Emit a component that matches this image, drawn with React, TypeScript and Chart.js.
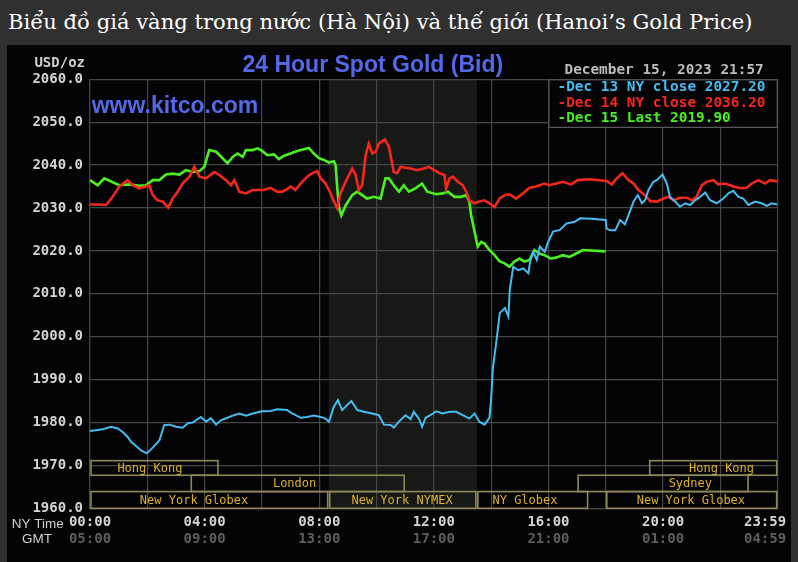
import React, { useEffect, useRef } from 'react';
import { Chart, registerables } from 'chart.js';

Chart.register(...registerables);

// [NY hour, USD/oz]
const dec13: [number, number][] = [
  [0, 1978.0], [0.21, 1978.2], [0.44, 1978.4], [0.73, 1979.0], [0.97, 1978.6], [1.14, 1977.8], [1.31, 1976.7],
  [1.43, 1975.5], [1.61, 1974.5], [1.78, 1973.5], [1.98, 1972.8], [2.2, 1974.2], [2.42, 1975.8], [2.59, 1979.4],
  [2.77, 1979.5], [3.0, 1979.0], [3.23, 1978.8], [3.41, 1979.8], [3.58, 1980.0], [3.87, 1981.3], [4.05, 1980.2],
  [4.22, 1981.0], [4.4, 1979.5], [4.57, 1980.5], [4.75, 1981.0], [4.98, 1981.6], [5.21, 1982.1], [5.44, 1981.6],
  [5.68, 1982.1], [6.0, 1982.6], [6.3, 1982.7], [6.53, 1983.1], [6.88, 1982.9], [7.06, 1982.1], [7.35, 1981.1],
  [7.58, 1981.3], [7.81, 1981.6], [8.05, 1981.3], [8.22, 1980.9], [8.34, 1980.2], [8.51, 1983.7], [8.65, 1985.2],
  [8.8, 1982.9], [8.92, 1983.7], [9.12, 1985.0], [9.33, 1982.9], [9.56, 1982.5], [9.85, 1982.1], [10.08, 1981.7],
  [10.26, 1979.5], [10.49, 1979.4], [10.6, 1978.8], [10.78, 1980.2], [11.01, 1981.7], [11.19, 1980.8], [11.3, 1982.5],
  [11.48, 1980.9], [11.59, 1979.0], [11.71, 1981.1], [11.88, 1981.7], [12.08, 1982.6], [12.31, 1982.1], [12.55, 1982.5],
  [12.78, 1982.5], [13.01, 1981.7], [13.24, 1980.9], [13.42, 1982.1], [13.59, 1980.2], [13.77, 1979.5], [13.94, 1981.1],
  [14.0, 1985.6], [14.06, 1992.6], [14.12, 1995.7], [14.19, 1999.3], [14.3, 2005.5], [14.48, 2006.7], [14.6, 2004.7],
  [14.65, 2010.9], [14.77, 2016.3], [14.94, 2015.5], [15.12, 2015.9], [15.3, 2014.8], [15.36, 2017.5], [15.47, 2019.8],
  [15.59, 2017.9], [15.7, 2021.0], [15.87, 2019.8], [15.99, 2022.1], [16.16, 2024.5], [16.4, 2024.9], [16.63, 2026.4],
  [16.92, 2026.8], [17.1, 2027.6], [17.5, 2027.5], [18.0, 2027.2], [18.03, 2025.2], [18.15, 2024.8], [18.33, 2024.8],
  [18.5, 2027.2], [18.67, 2026.2], [18.79, 2028.3], [18.97, 2031.5], [19.12, 2033.0], [19.26, 2031.1], [19.37, 2031.8],
  [19.49, 2034.2], [19.66, 2036.1], [19.78, 2036.5], [19.98, 2037.8], [20.13, 2035.7], [20.24, 2032.6], [20.42, 2031.5],
  [20.59, 2030.3], [20.77, 2031.1], [20.94, 2030.7], [21.12, 2031.8], [21.29, 2032.6], [21.47, 2033.6], [21.64, 2031.8],
  [21.87, 2031.1], [22.1, 2032.2], [22.28, 2033.4], [22.45, 2034.0], [22.63, 2032.6], [22.8, 2032.2], [22.98, 2030.7],
  [23.21, 2031.5], [23.44, 2031.1], [23.62, 2030.5], [23.79, 2031.1], [23.98, 2030.8],
];

const dec14: [number, number][] = [
  [0, 2030.8], [0.33, 2030.8], [0.56, 2030.7], [0.79, 2032.6], [1.02, 2035.0], [1.31, 2036.5], [1.49, 2035.3],
  [1.72, 2034.6], [1.95, 2035.0], [2.07, 2035.3], [2.19, 2033.0], [2.36, 2031.8], [2.54, 2031.5], [2.73, 2030.1],
  [2.88, 2032.2], [3.06, 2033.8], [3.23, 2035.7], [3.47, 2037.3], [3.64, 2039.6], [3.82, 2037.3], [4.05, 2036.9],
  [4.34, 2038.4], [4.51, 2037.7], [4.75, 2036.5], [4.92, 2035.3], [5.04, 2036.5], [5.21, 2033.8], [5.44, 2033.4],
  [5.68, 2034.2], [6.07, 2034.2], [6.3, 2034.7], [6.53, 2033.8], [6.71, 2033.8], [6.88, 2034.4], [7.0, 2035.0],
  [7.17, 2034.2], [7.35, 2035.7], [7.58, 2037.3], [7.76, 2038.1], [7.93, 2038.6], [8.05, 2036.9], [8.22, 2035.7],
  [8.4, 2033.4], [8.51, 2031.5], [8.63, 2029.9], [8.74, 2033.4], [8.92, 2036.1], [9.15, 2039.2], [9.27, 2037.7],
  [9.38, 2034.2], [9.5, 2035.3], [9.62, 2042.3], [9.73, 2045.0], [9.85, 2042.7], [9.97, 2043.1], [10.08, 2045.0],
  [10.29, 2046.0], [10.43, 2044.3], [10.6, 2038.4], [10.72, 2038.1], [10.84, 2039.6], [11.01, 2039.4], [11.19, 2039.2],
  [11.42, 2038.8], [11.65, 2039.2], [11.83, 2039.6], [12.02, 2038.8], [12.2, 2038.1], [12.37, 2037.7], [12.43, 2034.6],
  [12.55, 2036.9], [12.66, 2037.3], [12.84, 2036.1], [13.01, 2035.3], [13.13, 2033.8], [13.24, 2031.8], [13.42, 2031.1],
  [13.59, 2031.5], [13.77, 2031.8], [13.94, 2031.1], [14.12, 2030.2], [14.29, 2032.2], [14.47, 2033.0], [14.64, 2033.2],
  [14.87, 2032.2], [15.1, 2033.4], [15.34, 2034.7], [15.57, 2035.0], [15.86, 2035.7], [16.03, 2035.3], [16.27, 2035.7],
  [16.5, 2036.1], [16.79, 2035.5], [17.02, 2036.5], [17.43, 2036.7], [18.03, 2036.3], [18.21, 2035.5], [18.38, 2036.9],
  [18.58, 2038.1], [18.79, 2036.5], [18.97, 2035.7], [19.14, 2034.2], [19.37, 2033.0], [19.55, 2031.6], [19.78, 2031.5],
  [20.01, 2032.2], [20.19, 2032.6], [20.36, 2031.8], [20.59, 2032.4], [20.83, 2032.4], [21.0, 2031.8], [21.17, 2032.6],
  [21.35, 2035.3], [21.52, 2036.1], [21.76, 2036.5], [21.93, 2035.5], [22.16, 2035.7], [22.34, 2035.3], [22.51, 2034.9],
  [22.74, 2034.6], [22.92, 2034.7], [23.09, 2035.7], [23.33, 2036.5], [23.56, 2035.7], [23.73, 2036.5], [23.98, 2036.2],
];

const dec15: [number, number][] = [
  [0, 2036.5], [0.27, 2035.3], [0.5, 2036.9], [0.79, 2036.0], [1.02, 2035.3], [1.37, 2035.5], [1.72, 2035.2],
  [1.95, 2035.3], [2.19, 2036.5], [2.42, 2036.5], [2.65, 2037.8], [2.88, 2038.0], [3.12, 2037.8], [3.35, 2038.8],
  [3.58, 2038.4], [3.82, 2038.6], [3.99, 2039.6], [4.16, 2043.5], [4.4, 2043.1], [4.63, 2041.6], [4.8, 2040.4],
  [4.98, 2041.9], [5.15, 2042.7], [5.33, 2041.9], [5.44, 2043.5], [5.68, 2043.5], [5.85, 2043.9], [6.01, 2043.3],
  [6.19, 2042.3], [6.42, 2042.5], [6.59, 2041.4], [6.77, 2042.2], [7.0, 2042.7], [7.23, 2043.3], [7.47, 2043.7],
  [7.64, 2044.0], [7.81, 2042.7], [7.99, 2041.6], [8.16, 2041.2], [8.34, 2040.6], [8.51, 2040.9], [8.57, 2040.0],
  [8.63, 2034.6], [8.69, 2030.2], [8.77, 2028.3], [8.92, 2030.6], [9.15, 2033.0], [9.33, 2033.8], [9.5, 2033.0],
  [9.67, 2032.2], [9.91, 2032.6], [10.14, 2032.2], [10.31, 2036.9], [10.43, 2036.9], [10.6, 2035.3], [10.78, 2033.8],
  [10.95, 2035.3], [11.13, 2033.8], [11.36, 2034.6], [11.59, 2035.7], [11.77, 2033.8], [12.08, 2033.2], [12.31, 2033.4],
  [12.49, 2033.8], [12.72, 2032.6], [12.95, 2032.6], [13.13, 2033.0], [13.24, 2031.5], [13.3, 2028.3], [13.42, 2024.5],
  [13.53, 2021.0], [13.65, 2022.1], [13.77, 2021.7], [13.94, 2020.2], [14.12, 2019.0], [14.29, 2017.6], [14.47, 2017.1],
  [14.64, 2016.3], [14.81, 2017.5], [14.99, 2018.2], [15.16, 2017.5], [15.34, 2017.9], [15.51, 2020.2], [15.69, 2019.4],
  [15.86, 2019.0], [16.09, 2018.2], [16.33, 2018.6], [16.5, 2019.0], [16.73, 2018.6], [16.97, 2019.4], [17.2, 2020.2],
  [17.99, 2019.9],
];

const seriesLabels = ['Dec 13 NY close 2027.20', 'Dec 14 NY close 2036.20', 'Dec 15 Last 2019.90'];
const seriesColors = ['#46bdf0', '#f5271d', '#4bef22'];
const seriesWidths = [2, 2.6, 2.6];

const yMin = 1960;
const yMax = 2060;
const yStep = 10;
const nyTimeLabels = ['00:00', '04:00', '08:00', '12:00', '16:00', '20:00', '23:59'];
const gmtLabels = ['05:00', '09:00', '13:00', '17:00', '21:00', '01:00', '04:59'];

const sessionNames = ['Hong Kong', 'London', 'New York Globex', 'New York NYMEX', 'NY Globex', 'Sydney', 'New York Globex', 'Hong Kong'];
const sessionStart = [0, 3.5, 0, 8.33, 13.5, 17, 18, 19.5];
const sessionEnd = [4.5, 11, 8.33, 13.5, 17.4, 23, 24, 24];
const sessionRow = [0, 1, 2, 2, 2, 1, 2, 0];
const sessionLabelAt = [2.09, 7.14, 3.63, 10.89, 15.18, 20.95, 20.97, 22.04];
const sessionRowEdges = [1971.1, 1967.7, 1963.9, 1960];
const nymexHours = [8.33, 13.5];

const chartTitle = '24 Hour Spot Gold (Bid)';
const siteText = 'www.kitco.com';
const stampText = 'December 15, 2023 21:57';
const unitText = 'USD/oz';

const MONO = '"DejaVu Sans Mono", "Liberation Mono", monospace';
const SANS = '"Liberation Sans", Arial, sans-serif';

const noPad = (s: any) => {
  s.paddingLeft = 0;
  s.paddingRight = 0;
  s.paddingTop = 0;
  s.paddingBottom = 0;
};

const kitcoPlugin = {
  id: 'kitcoDecor',
  beforeDraw(chart: any) {
    const { ctx, chartArea, scales } = chart;
    ctx.save();
    ctx.fillStyle = '#040407';
    ctx.fillRect(0, 0, chart.width, chart.height);
    const a = scales.x.getPixelForValue(nymexHours[0]);
    const b = scales.x.getPixelForValue(nymexHours[1]);
    ctx.fillStyle = '#161916';
    ctx.fillRect(a, chartArea.top, b - a, chartArea.bottom - chartArea.top);
    ctx.restore();
  },
  beforeDatasetsDraw(chart: any) {
    const { ctx, scales } = chart;
    ctx.save();
    ctx.strokeStyle = '#8d8859';
    ctx.lineWidth = 1.6;
    ctx.font = `12px ${MONO}`;
    ctx.textAlign = 'center';
    ctx.textBaseline = 'middle';
    sessionNames.forEach((name, i) => {
      const r = sessionRow[i];
      const top = scales.y.getPixelForValue(sessionRowEdges[r]);
      const bot = scales.y.getPixelForValue(sessionRowEdges[r + 1]);
      const x0 = scales.x.getPixelForValue(sessionStart[i]) + 1;
      const x1 = scales.x.getPixelForValue(sessionEnd[i]) - 1;
      ctx.strokeRect(x0, top, x1 - x0, bot - top);
      ctx.fillStyle = '#dcb12e';
      ctx.fillText(name, scales.x.getPixelForValue(sessionLabelAt[i]), (top + bot) / 2 + 0.5);
    });
    ctx.restore();
  },
  afterDraw(chart: any) {
    const { ctx, chartArea, scales } = chart;
    ctx.save();
    // legend box
    const lx = scales.x.getPixelForValue(16);
    const ly = chartArea.top;
    ctx.fillStyle = '#040407';
    ctx.fillRect(lx, ly, chartArea.right - lx, 48);
    ctx.strokeStyle = '#6e6e6e';
    ctx.lineWidth = 1;
    ctx.strokeRect(lx + 0.5, ly + 0.5, chartArea.right - lx - 1, 47.5);
    ctx.font = `bold 14.4px ${MONO}`;
    ctx.textAlign = 'left';
    ctx.textBaseline = 'middle';
    chart.data.datasets.forEach((ds: any, i: number) => {
      ctx.fillStyle = seriesColors[i];
      ctx.fillText('-' + ds.label, lx + 9, ly + 8 + i * 15.7);
    });
    // date stamp
    ctx.fillStyle = '#bdbdbd';
    ctx.fillText(stampText, lx + 16, ly - 9.5);
    // unit
    ctx.font = `bold 14px ${MONO}`;
    ctx.textAlign = 'right';
    ctx.textBaseline = 'alphabetic';
    ctx.fillStyle = '#d2d2d2';
    ctx.fillText(unitText, chartArea.left - 5, chartArea.top - 12.6);
    // title and site
    ctx.fillStyle = '#5568e8';
    ctx.font = `bold 23px ${SANS}`;
    ctx.textAlign = 'center';
    ctx.fillText(chartTitle, 365.8, chartArea.top - 7);
    ctx.font = `bold 23px ${SANS}`;
    ctx.textAlign = 'left';
    ctx.fillText(siteText, chartArea.left + 1.7, chartArea.top + 33.7);
    // axis captions
    ctx.font = `13.5px ${SANS}`;
    ctx.fillStyle = '#cfcfcf';
    ctx.textBaseline = 'middle';
    ctx.fillText('NY Time', 4.7, chartArea.bottom + 15.7);
    ctx.fillText('GMT', 15, chartArea.bottom + 31.2);
    ctx.restore();
  },
};

export default function App() {
  const canvasRef = useRef<HTMLCanvasElement | null>(null);

  useEffect(() => {
    const canvas = canvasRef.current;
    if (!canvas) return;
    const gridColor = '#454545';
    const chart = new Chart(canvas, {
      type: 'line',
      data: {
        datasets: [dec13, dec14, dec15].map((s, i) => ({
          label: seriesLabels[i],
          data: s.map(([x, y]) => ({ x, y })),
          borderColor: seriesColors[i],
          backgroundColor: seriesColors[i],
          borderWidth: seriesWidths[i],
          pointRadius: 0,
          tension: 0,
          fill: false,
        })),
      },
      options: {
        responsive: false,
        animation: false,
        devicePixelRatio: 1,
        layout: { autoPadding: false, padding: { top: 34.3, right: 13.3, left: 0, bottom: 0 } },
        plugins: { legend: { display: false }, tooltip: { enabled: false }, title: { display: false } },
        scales: {
          x: {
            type: 'linear',
            position: 'bottom',
            min: 0,
            max: 24,
            weight: 0,
            afterFit: (s: any) => { s.height = 20; noPad(s); },
            ticks: {
              stepSize: 2,
              autoSkip: false,
              maxRotation: 0,
              padding: 5.3,
              color: '#d4d4d4',
              font: { family: MONO, size: 14, weight: 'bold' },
              callback: (v: any) => {
                const n = Number(v);
                if (n % 4 !== 0) return '';
                const t = nyTimeLabels[n / 4];
                return n === 24 ? t + '   ' : t;
              },
            },
            grid: { color: gridColor, lineWidth: 1.2, drawTicks: false },
            border: { color: gridColor, width: 1.2 },
          },
          gmt: {
            type: 'linear',
            position: 'bottom',
            min: 0,
            max: 24,
            weight: 1,
            afterFit: (s: any) => { s.height = 33.7; noPad(s); },
            ticks: {
              stepSize: 4,
              autoSkip: false,
              maxRotation: 0,
              padding: 2.8,
              color: '#5e5e5e',
              font: { family: MONO, size: 14, weight: 'bold' },
              callback: (v: any) => {
                const n = Number(v);
                const t = gmtLabels[n / 4];
                return n === 24 ? t + '   ' : t;
              },
            },
            grid: { display: false, drawTicks: false },
            border: { display: false },
          },
          y: {
            type: 'linear',
            position: 'left',
            min: yMin,
            max: yMax,
            afterFit: (s: any) => { s.width = 83; noPad(s); },
            ticks: {
              stepSize: yStep,
              padding: 7,
              color: '#d4d4d4',
              font: { family: MONO, size: 14, weight: 'bold' },
              callback: (v: any) => Number(v).toFixed(1),
            },
            grid: { color: gridColor, lineWidth: 1.2, drawTicks: false },
            border: { color: gridColor, width: 1.2 },
          },
        },
      } as any,
      plugins: [kitcoPlugin],
    });
    return () => chart.destroy();
  }, []);

  return (
    <div style={{ position: 'fixed', inset: 0, background: '#303030', overflow: 'hidden' }}>
      <div
        style={{
          position: 'absolute',
          left: 8,
          top: 11,
          color: '#ffffff',
          fontFamily: '"DejaVu Serif", serif',
          fontSize: 21.1,
          lineHeight: '22px',
          whiteSpace: 'nowrap',
        }}
      >
        Biểu đồ giá vàng trong nước (Hà Nội) và thế giới (Hanoi’s Gold Price)
      </div>
      <canvas
        ref={canvasRef}
        width={784}
        height={517}
        style={{ position: 'absolute', left: 7, top: 45, width: 784, height: 517 }}
      />
    </div>
  );
}
